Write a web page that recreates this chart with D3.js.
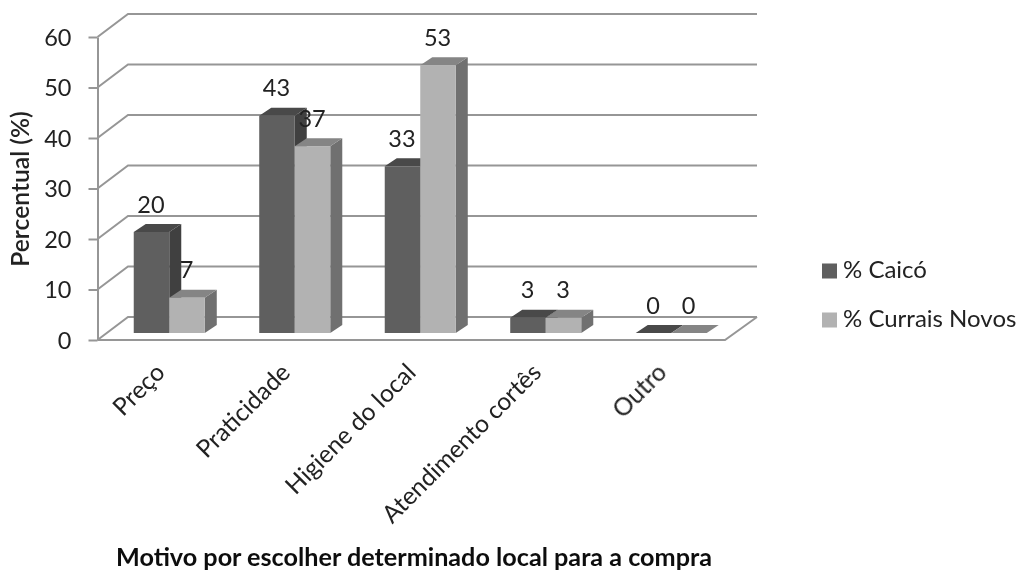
<!DOCTYPE html>
<html>
<head>
<meta charset="utf-8">
<script src="https://cdn.jsdelivr.net/npm/d3@7"></script>
<style>
  html, body { margin: 0; padding: 0; background: #fff; }
  svg { display: block; }
  text { font-family: Lato, "Open Sans", sans-serif; fill: #222; }
  .axis path, .axis line { stroke: #969696; stroke-width: 2; }
  .grid { stroke: #969696; stroke-width: 2; fill: none; }
</style>
</head>
<body>
<div id="chart"></div>
<script>
var categories = ["Preço", "Praticidade", "Higiene do local", "Atendimento cortês", "Outro"];
var seriesNames = ["% Caicó", "% Currais Novos"];
var caico = [20, 43, 33, 3, 0];
var curraisNovos = [7, 37, 53, 3, 0];
var yTicks = [0, 10, 20, 30, 40, 50, 60];

var colors = [
  {front: "#5f5f5f", top: "#484848", side: "#404040"},
  {front: "#b2b2b2", top: "#858585", side: "#6f6f6f"}
];

var width = 1021, height = 575;

var svg = d3.select("#chart").append("svg")
  .attr("width", width)
  .attr("height", height);

svg.append("filter")
  .attr("id", "soft")
  .attr("x", "-5%").attr("y", "-5%").attr("width", "110%").attr("height", "110%")
  .append("feGaussianBlur")
  .attr("stdDeviation", 0.45);

var g = svg.append("g").attr("filter", "url(#soft)");

// front plane of the floor
var xScale = d3.scaleBand()
  .domain(categories)
  .range([97.5, 725])
  .paddingInner(0.434)
  .paddingOuter(0.217);

var serieScale = d3.scaleBand()
  .domain([0, 1])
  .range([0, xScale.bandwidth()]);

var yScale = d3.scaleLinear()
  .domain([0, 60])
  .range([340, 37]);

// the wall and floor sit behind the front plane
var wallDx = 30.5, wallDy = 23;
// bars stand a bit inside the floor
var barDx = 9, barDy = 7;
var depthX = 12, depthY = 8;

// gridlines: diagonal from the axis, then along the back wall
g.selectAll(".grid")
  .data(yTicks)
  .enter().append("path")
  .attr("class", "grid")
  .attr("d", function(d) {
    var y = yScale(d);
    return d3.line()([[97.5, y], [97.5 + wallDx, y - wallDy], [757, y - wallDy]]);
  });

// front and right edge of the floor
g.append("path")
  .attr("class", "grid")
  .attr("d", d3.line()([[97.5, yScale(0)], [725, yScale(0)], [757, yScale(0) - wallDy]]));

g.append("g")
  .attr("class", "axis")
  .attr("transform", "translate(97.5,0)")
  .call(d3.axisLeft(yScale).tickValues(yTicks).tickSize(9).tickSizeOuter(0).tickPadding(17))
  .call(function(a) {
    a.selectAll("text")
      .style("font-size", "23.5px")
      .attr("dy", "0.35em");
  });

var rows = [caico, curraisNovos];

// one group per series so the light bars cover the side of the dark ones
rows.forEach(function(values, s) {
  var bars = g.append("g").selectAll("g")
    .data(values)
    .enter().append("g");

  function left(d, i) { return xScale(categories[i]) + barDx + serieScale(s); }
  function top(d) { return yScale(d) - barDy; }
  var w = serieScale.bandwidth();
  var bottom = yScale(0) - barDy;

  bars.append("path")
    .attr("fill", colors[s].side)
    .attr("d", function(d, i) {
      var x = left(d, i) + w;
      return d3.line()([[x, top(d)], [x + depthX, top(d) - depthY], [x + depthX, bottom - depthY], [x, bottom]]) + "Z";
    });

  bars.append("path")
    .attr("fill", colors[s].top)
    .attr("d", function(d, i) {
      var x = left(d, i);
      return d3.line()([[x, top(d)], [x + depthX, top(d) - depthY], [x + w + depthX, top(d) - depthY], [x + w, top(d)]]) + "Z";
    });

  bars.append("rect")
    .attr("fill", colors[s].front)
    .attr("x", left)
    .attr("y", top)
    .attr("width", w)
    .attr("height", function(d) { return bottom - top(d); });
});

// data labels
rows.forEach(function(values, s) {
  g.selectAll(".label" + s)
    .data(values)
    .enter().append("text")
    .attr("class", "label" + s)
    .attr("text-anchor", "middle")
    .style("font-size", "23.5px")
    .attr("x", function(d, i) {
      return xScale(categories[i]) + barDx + serieScale(s) + serieScale.bandwidth() / 2 - 0.5;
    })
    .attr("y", function(d) { return yScale(d) - barDy - 19.5; })
    .text(function(d) { return d; });
});

// category labels
g.selectAll(".cat")
  .data(categories)
  .enter().append("text")
  .attr("class", "cat")
  .attr("text-anchor", "end")
  .style("font-size", "24.5px")
  .attr("transform", function(d) {
    return "translate(" + (xScale(d) + xScale.bandwidth() / 2 + 6) + ",374) rotate(-45)";
  })
  .text(function(d) { return d; });

g.append("text")
  .attr("text-anchor", "middle")
  .attr("transform", "translate(29,189) rotate(-90)")
  .style("font-size", "24.7px")
  .style("font-weight", 600)
  .text("Percentual (%)");

g.append("text")
  .attr("x", 414)
  .attr("y", 566)
  .attr("text-anchor", "middle")
  .style("font-size", "25.2px")
  .style("font-weight", 700)
  .style("fill", "#111")
  .text("Motivo por escolher determinado local para a compra");

// legend
var legend = g.selectAll(".legend")
  .data(seriesNames)
  .enter().append("g")
  .attr("class", "legend")
  .attr("transform", function(d, i) { return "translate(822," + (263.5 + i * 49) + ")"; });

legend.append("rect")
  .attr("width", 15)
  .attr("height", 15)
  .attr("fill", function(d, i) { return colors[i].front; });

legend.append("text")
  .attr("x", 21)
  .attr("y", 14.5)
  .style("font-size", "24px")
  .text(function(d) { return d; });
</script>
</body>
</html>
